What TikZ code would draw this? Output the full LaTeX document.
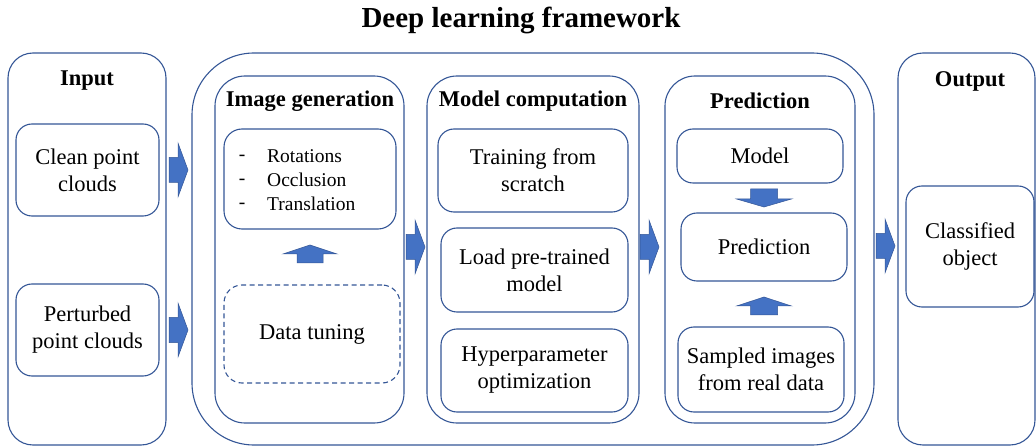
\documentclass[tikz,border=0pt]{standalone}
\usepackage{fontspec}
\setmainfont{Liberation Serif}
\definecolor{bd}{RGB}{52,86,150}
\definecolor{af}{RGB}{68,114,196}
\newcommand\rblock[6]{% x0 xm x1 cy bodyhalf headhalf
  \filldraw[blockarrow] (#1,#4-#5) -- (#2,#4-#5) -- (#2,#4-#6) -- (#3,#4) -- (#2,#4+#6) -- (#2,#4+#5) -- (#1,#4+#5) -- cycle;}
\newcommand\vblock[6]{% cx y0(base) ym y1(tip) bodyhalf headhalf
  \filldraw[blockarrow] (#1-#5,#2) -- (#1-#5,#3) -- (#1-#6,#3) -- (#1,#4) -- (#1+#6,#3) -- (#1+#5,#3) -- (#1+#5,#2) -- cycle;}
\begin{document}
\begin{tikzpicture}[x=1pt,y=-1pt,
  frame/.style={draw=bd,line width=1.1pt,rounded corners=#1},
  box/.style={draw=bd,line width=1.1pt,rounded corners=16pt,align=center,inner sep=0pt,
    font=\fontsize{22.5}{27}\selectfont},
  head/.style={font=\fontsize{22.5}{27}\selectfont\bfseries},
  item/.style={font=\fontsize{19.5}{24}\selectfont},
  blockarrow/.style={fill=af,draw=bd,line width=0.5pt}]
\useasboundingbox (0,0) rectangle (1036,446);
\clip (0,0) rectangle (1036,446);

\node[font=\fontsize{29}{34}\selectfont\bfseries] (title) at (521,20) {Deep learning framework};

% Input column
\draw[frame=25pt] (8,53) rectangle (166,445);
\node[head] (inp) at (87,81) {Input};
\node[box,minimum width=143pt,minimum height=92pt] (clean) at (87.5,170) {Clean point\\clouds};
\node[box,minimum width=143pt,minimum height=92pt] (pert) at (87.5,330) {Perturbed\\point clouds};

% Framework outer
\draw[frame=62pt] (192,53) rectangle (874,445);

% Image generation
\draw[frame=30pt] (215,76) rectangle (404,423);
\node[head] (ig) at (310,101) {Image generation};
\draw[frame=18pt] (224,129) rectangle (396,229);
\node[item] at (242,157.5) {-};
\node[item] at (242,182) {-};
\node[item] at (242,206) {-};
\node[item,anchor=west,inner sep=0pt] (rot) at (267,156) {Rotations};
\node[item,anchor=west,inner sep=0pt] (occ) at (267,180) {Occlusion};
\node[item,anchor=west,inner sep=0pt] (tra) at (267,204) {Translation};
\node[box,dash pattern=on 5pt off 3.5pt,rounded corners=18pt,minimum width=176pt,minimum height=98pt] (tune) at (312,334) {Data tuning};

% Model computation
\draw[frame=30pt] (427,76) rectangle (639,423);
\node[head] (mc) at (533,101) {Model computation};
\node[box,minimum width=190pt,minimum height=83pt] (train) at (533,170.5) {Training from\\scratch};
\node[box,minimum width=187pt,minimum height=84pt] (load) at (534.5,270) {Load pre-trained\\model};
\node[box,minimum width=187pt,minimum height=83pt] (hyper) at (534.5,370.5) {Hyperparameter\\optimization};

% Prediction
\draw[frame=30pt] (665,76) rectangle (855,423);
\node[head] (pr) at (760,101) {Prediction};
\node[box,minimum width=166pt,minimum height=54pt] (model) at (760,156) {Model};
\node[box,minimum width=166pt,minimum height=68pt] (pred) at (764,247) {Prediction};
\node[box,minimum width=166pt,minimum height=85pt] (samp) at (761,369.5) {Sampled images\\from real data};

% Output
\draw[frame=25pt] (898,53) rectangle (1035,445);
\node[head] (out) at (970,81) {Output};
\node[box,minimum width=128pt,minimum height=121pt] (cls) at (970,246.5) {Classified\\object};

% Block arrows
\rblock{169}{178}{188}{170}{12.5}{27}
\rblock{169}{178}{188}{330}{12.5}{27}
\rblock{406}{415}{425}{247}{12.5}{27}
\rblock{640}{649}{659}{247}{12.5}{27}
\rblock{876}{885}{895}{246}{12.5}{27}
\vblock{310}{263}{254}{245}{13}{27}
\vblock{764}{189}{199}{207}{13.5}{27.5}
\vblock{764}{315}{306}{297}{13.5}{27.5}
\end{tikzpicture}
\end{document}
